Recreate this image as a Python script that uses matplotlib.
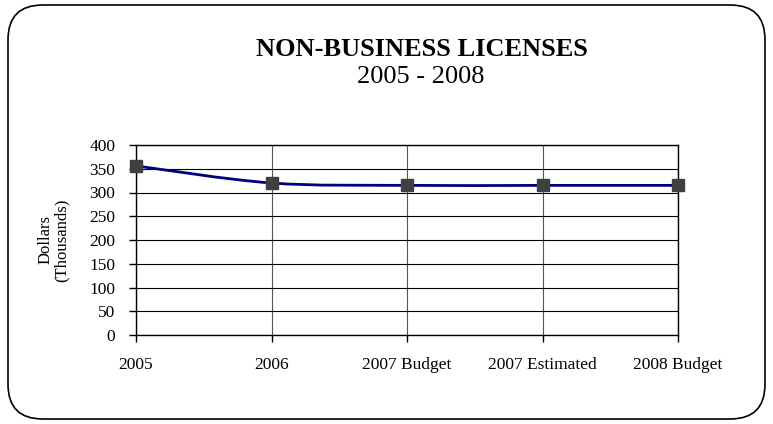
import matplotlib.pyplot as plt
import numpy as np
from matplotlib.patches import FancyBboxPatch, PathPatch
from matplotlib.path import Path

plt.rcParams["font.family"] = ["Liberation Serif", "DejaVu Serif"]

categories = ["2005", "2006", "2007 Budget", "2007 Estimated", "2008 Budget"]
values = [356, 320, 315, 315, 315]
y_ticks = [0, 50, 100, 150, 200, 250, 300, 350, 400]


def smooth_path(xs, ys, tension=1 / 6):
    """Bezier path through the points, Catmull-Rom style (like a smoothed line)."""
    xs = np.asarray(xs, float)
    ys = np.asarray(ys, float)
    n = len(xs)
    verts = [(xs[0], ys[0])]
    codes = [Path.MOVETO]
    for i in range(n - 1):
        p0 = i - 1 if i > 0 else i
        p3 = i + 2 if i + 2 < n else i + 1
        c1 = (xs[i] + (xs[i + 1] - xs[p0]) * tension, ys[i] + (ys[i + 1] - ys[p0]) * tension)
        c2 = (xs[i + 1] - (xs[p3] - xs[i]) * tension, ys[i + 1] - (ys[p3] - ys[i]) * tension)
        verts += [c1, c2, (xs[i + 1], ys[i + 1])]
        codes += [Path.CURVE4] * 3
    return Path(verts, codes)


fig = plt.figure(figsize=(7.73, 4.24), dpi=100, facecolor="white")

# rounded frame around the whole chart
frame = FancyBboxPatch(
    (8 / 773, 5 / 424), 757 / 773, 414 / 424,
    boxstyle="round,pad=0,rounding_size=0.045",
    transform=fig.transFigure, facecolor="none", edgecolor="black", linewidth=1.2,
    mutation_aspect=773 / 424,
)
fig.patches.append(frame)

ax = fig.add_axes([136 / 773, 1 - 335 / 424, 542 / 773, 190 / 424])
x = np.arange(len(categories))

ax.add_patch(PathPatch(smooth_path(x, values), facecolor="none", edgecolor="#000080",
                       linewidth=2, zorder=3))
ax.plot(x, values, linestyle="none", marker="s", markersize=9,
        color="#404040", zorder=4, clip_on=False)

ax.set_xlim(0, len(categories) - 1)
ax.set_ylim(0, 400)
ax.set_yticks(y_ticks)
ax.set_xticks(x)
ax.set_xticklabels(categories)
ax.tick_params(axis="both", direction="out", length=5, width=1, labelsize=12.5, color="black")
ax.tick_params(axis="x", pad=11)
ax.tick_params(axis="y", pad=10)

ax.yaxis.grid(True, color="black", linewidth=0.8)
ax.xaxis.grid(True, color="#555555", linewidth=0.8)
ax.set_axisbelow(True)
for spine in ax.spines.values():
    spine.set_linewidth(1)
    spine.set_color("black")

ax.set_ylabel("Dollars\n(Thousands)", fontsize=12, linespacing=1.0)
ax.yaxis.set_label_coords(-0.122, 0.5)

fig.text(0.546, 1 - 50 / 424, "NON-BUSINESS LICENSES", ha="center", va="center",
         fontsize=19, fontweight="bold")
fig.text(0.544, 1 - 77 / 424, "2005 - 2008", ha="center", va="center", fontsize=19)

fig.savefig("out.png", dpi=100, facecolor="white")
